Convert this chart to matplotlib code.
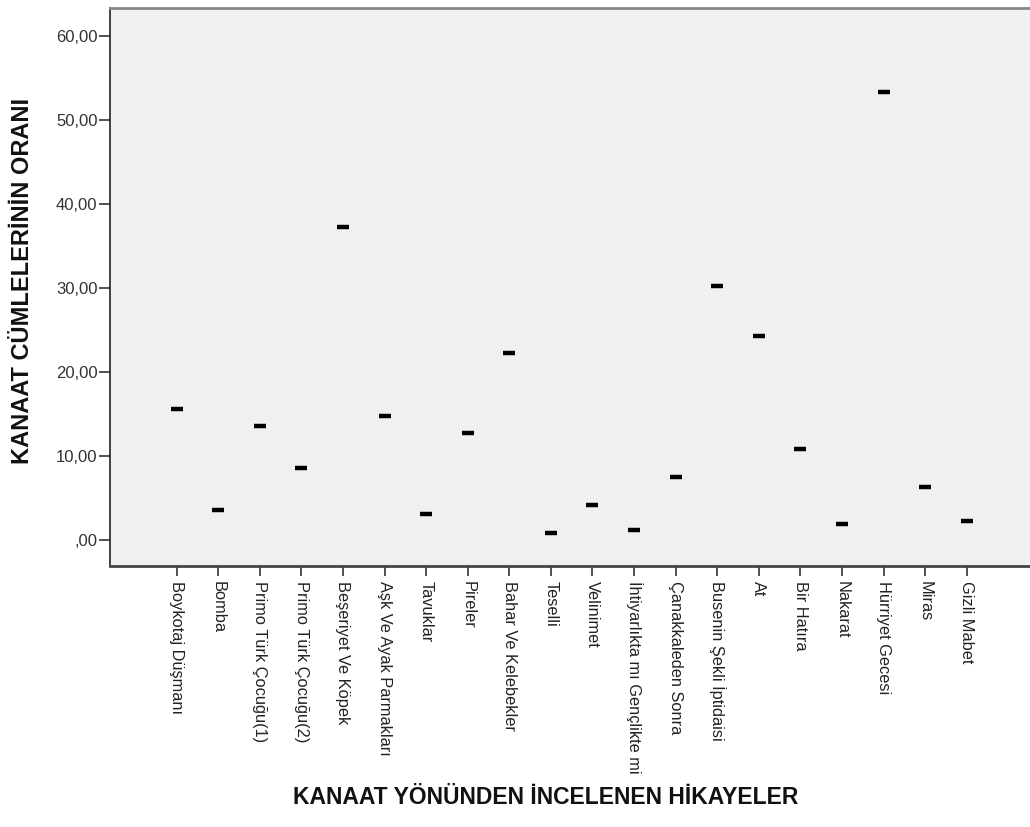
import matplotlib
matplotlib.use("Agg")
import matplotlib.pyplot as plt
from matplotlib.ticker import FuncFormatter

plt.rcParams['font.family'] = ['Liberation Sans', 'DejaVu Sans']

categories = [
    "Boykotaj Düşmanı", "Bomba", "Primo Türk Çocuğu(1)", "Primo Türk Çocuğu(2)",
    "Beşeriyet Ve Köpek", "Aşk Ve Ayak Parmakları", "Tavuklar", "Pireler",
    "Bahar Ve Kelebekler", "Teselli", "Velinimet", "İhtiyarlıkta mı Gençlikte mi",
    "Çanakkaleden Sonra", "Busenin Şekli İptidaisi", "At", "Bir Hatıra",
    "Nakarat", "Hürriyet Gecesi", "Miras", "Gizli Mabet",
]
values = [15.6, 3.6, 13.6, 8.6, 37.3, 14.8, 3.1, 12.7, 22.2, 0.8,
          4.1, 1.2, 7.5, 30.2, 24.3, 10.8, 1.9, 53.3, 6.3, 2.2]
y_ticks = [0, 10, 20, 30, 40, 50, 60]

fig = plt.figure(figsize=(10.30, 8.27), dpi=100)
ax = fig.add_axes([0.1068, 0.3156, 0.8932, 0.6747])
ax.set_facecolor('#F0F0F0')

x = list(range(len(categories)))
ax.plot(x, values, ls='none', marker='_', ms=8.5, mew=3.2, color='black')

ax.set_xlim(-1.6, 20.52)
ax.set_ylim(-3.1, 63.3)
ax.set_yticks(y_ticks)

def fmt(v, pos):
    s = f"{v:.2f}".replace('.', ',')
    if s.startswith('0,'):
        s = s[1:]
    return s
ax.yaxis.set_major_formatter(FuncFormatter(fmt))

ax.set_xticks(x)
ax.set_xticklabels(categories, rotation=270, fontsize=11.8, color='#222222', va='top', ha='center')
ax.tick_params(axis='y', labelsize=12, labelcolor='#333333', length=8, width=1.2, color='#333333', pad=1)
ax.tick_params(axis='x', length=7, width=1.2, color='#333333', pad=4)

ax.spines['left'].set_color('#222222')
ax.spines['left'].set_linewidth(1.2)
ax.spines['bottom'].set_color('#444444')
ax.spines['bottom'].set_linewidth(2)
ax.spines['top'].set_color('#888888')
ax.spines['top'].set_linewidth(2)
ax.spines['right'].set_visible(False)

fig.text(0.022, 1 - 281/827, "KANAAT CÜMLELERİNİN ORANI", rotation=90, ha='center', va='center',
         fontsize=17, fontweight='bold', color='#111111')
fig.text(0.530, 1 - 797/827, "KANAAT YÖNÜNDEN İNCELENEN HİKAYELER", ha='center', va='center',
         fontsize=16.5, fontweight='bold', color='#111111')

fig.savefig('out.png', dpi=100)
